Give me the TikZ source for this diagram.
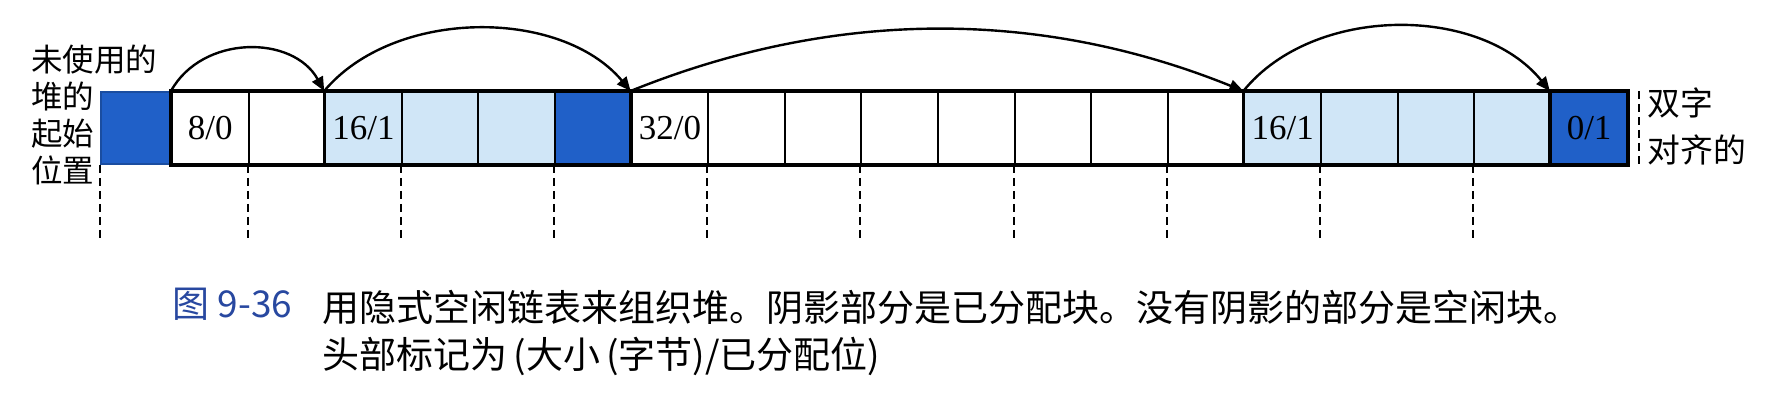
\documentclass[tikz,border=0pt]{standalone}
\usepackage{fontspec}
\usepackage{color}
\usetikzlibrary{arrows.meta}
\setmainfont{Liberation Serif}
\newfontfamily\cjk{Noto Sans CJK SC}
\definecolor{darkword}{RGB}{32,96,200}
\definecolor{lightword}{RGB}{208,230,247}
\definecolor{capblue}{RGB}{40,72,160}
\newcommand\numsize{\fontsize{17.5pt}{20pt}\selectfont}
\newcommand\labsize{\fontsize{15.75pt}{18.4pt}\selectfont}
\newcommand\capsize{\fontsize{18.5pt}{23.5pt}\selectfont}

\tikzset{
    word/.style={rectangle, draw, line width=1pt, minimum width=38.3pt,
        minimum height=36pt, inner sep=0pt, font=\numsize},
    freeword/.style={word, fill=white},
    usedword/.style={word, fill=lightword},
    padword/.style={word, fill=darkword},
    link/.style={line width=1.2pt, -{Triangle[length=7pt,width=6pt]}},
    wordline/.style={line width=1pt, dash pattern=on 4pt off 2.5pt},
    blockline/.style={line width=1.7pt}
}

\begin{document}
\begin{tikzpicture}[x=0.5pt, y=0.5pt]

\useasboundingbox (0,0) rectangle (1788,406);

\begin{scope}

    % heap words
    \node (c0) at (136.35,278) [padword, draw=darkword!80!black, minimum width=35.65pt] {};
    \node (c1) at (210.3,278) [freeword] {8/0};
    \node (c2) at (286.9,278) [freeword] {};
    \node (c3) at (363.5,278) [usedword] {16/1};
    \node (c4) at (440.1,278) [usedword] {};
    \node (c5) at (516.7,278) [usedword] {};
    \node (c6) at (593.3,278) [padword] {};
    \node (c7) at (669.9,278) [freeword] {32/0};
    \node (c8) at (746.5,278) [freeword] {};
    \node (c9) at (823.1,278) [freeword] {};
    \node (c10) at (899.7,278) [freeword] {};
    \node (c11) at (976.3,278) [freeword] {};
    \node (c12) at (1052.9,278) [freeword] {};
    \node (c13) at (1129.5,278) [freeword] {};
    \node (c14) at (1206.1,278) [freeword] {};
    \node (c15) at (1282.7,278) [usedword] {16/1};
    \node (c16) at (1359.3,278) [usedword] {};
    \node (c17) at (1435.9,278) [usedword] {};
    \node (c18) at (1512.5,278) [usedword] {};
    \node (c19) at (1589.1,278) [padword] {0/1};

    % block borders
    \draw[blockline] (c1.north west) rectangle (c19.south east);
    \draw[blockline] (c3.north west) -- (c3.south west);
    \draw[blockline] (c7.north west) -- (c7.south west);
    \draw[blockline] (c15.north west) -- (c15.south west);
    \draw[blockline] (c19.north west) -- (c19.south west);

    % double word boundaries
    \draw[wordline] (c0.south west) -- ++(0,-74);
    \draw[wordline] (c2.south west) -- ++(0,-74);
    \draw[wordline] (c4.south west) -- ++(0,-74);
    \draw[wordline] (c6.south west) -- ++(0,-74);
    \draw[wordline] (c8.south west) -- ++(0,-74);
    \draw[wordline] (c10.south west) -- ++(0,-74);
    \draw[wordline] (c12.south west) -- ++(0,-74);
    \draw[wordline] (c14.south west) -- ++(0,-74);
    \draw[wordline] (c16.south west) -- ++(0,-74);
    \draw[wordline] (c18.south west) -- ++(0,-74);
    \draw[wordline] ([xshift=5.5pt]c19.north east) -- ([xshift=5.5pt]c19.south east);

    % implicit free list
    \path[link]
        (c1.north west) edge [out=61, in=119, looseness=1.08] (c3.north west)
        (c3.north west) edge [out=50, in=130, looseness=0.91] (c7.north west)
        (c7.north west) edge [out=22, in=158, looseness=0.92] (c15.north west)
        (c15.north west) edge [out=51, in=129, looseness=0.93] (c19.north west);

    % labels
    \node (start) at (31,291) [anchor=west, align=left, inner sep=0pt,
        font=\cjk\labsize] {未使用的\\堆的\\起始\\位置};
    \node (align) at (1647,279.5) [anchor=west, align=left, inner sep=0pt,
        font=\cjk\fontsize{16.4pt}{23.5pt}\selectfont] {双字\\对齐的};

    % caption
    \node (fig) at (172,102) [anchor=west, inner sep=0pt, text=capblue,
        font=\cjk\capsize] {图 9-36};
    \node (cap) at (322,116) [anchor=north west, align=left, inner sep=0pt,
        font=\cjk\capsize]
        {用隐式空闲链表来组织堆。阴影部分是已分配块。没有阴影的部分是空闲块。\\
         头部标记为\,(大小\,(字节)/已分配位)};

\end{scope}

\end{tikzpicture}
\end{document}
